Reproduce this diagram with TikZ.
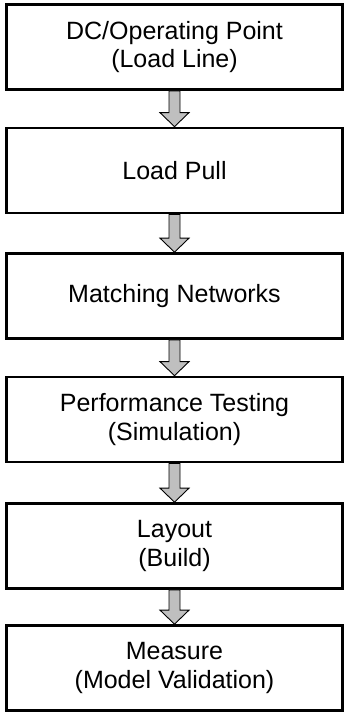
\documentclass[tikz,border=0pt]{standalone}
\usepackage{fontspec}
\setmainfont{Liberation Sans}
\usepackage{tikz}
\usetikzlibrary{calc,positioning}

\tikzset{
	stage/.style={draw, line width=2.7pt, minimum width=336pt, minimum height=85pt,
		align=center, font=\fontsize{25}{28.5}\selectfont},
	blockarrow/.style={draw, fill=gray!50, line width=0.9pt, line join=miter,
		to path={($(\tikztostart.south)+(-5.5,0)$) -- ($(\tikztotarget.north)+(-5.5,14)$)
			-- ($(\tikztotarget.north)+(-14.5,14)$) -- (\tikztotarget.north)
			-- ($(\tikztotarget.north)+(14.5,14)$) -- ($(\tikztotarget.north)+(5.5,14)$)
			-- ($(\tikztostart.south)+(5.5,0)$) -- cycle}}
}

\begin{document}
\begin{tikzpicture}[x=1pt, y=1pt]
			\useasboundingbox (0,0) rectangle (349,-715);

			\node[stage] (dc) at (174.5, -47) {DC/Operating Point\\(Load Line)};
			\node[stage] (pull) at (174.5, -170.5) {Load Pull};
			\node[stage] (match) at (174.5, -296) {Matching Networks};
			\node[stage] (perf) at (174.5, -419.5) {Performance Testing\\(Simulation)};
			\node[stage] (layout) at (174.5, -546) {Layout\\(Build)};
			\node[stage] (measure) at (174.5, -668) {Measure\\(Model Validation)};

			\draw [blockarrow] (dc) to (pull);
			\draw [blockarrow] (pull) to (match);
			\draw [blockarrow] (match) to (perf);
			\draw [blockarrow] (perf) to (layout);
			\draw [blockarrow] (layout) to (measure);
	\end{tikzpicture}
\end{document}
